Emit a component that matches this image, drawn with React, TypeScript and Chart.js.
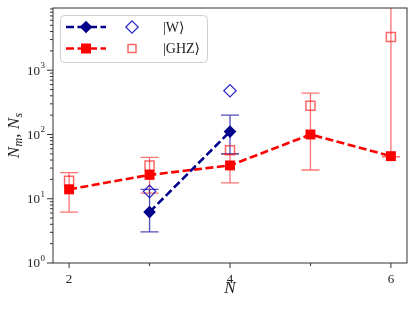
import { useEffect, useRef } from 'react';
import { Chart, registerables } from 'chart.js';
Chart.register(...registerables);

// ---- data ----
const N_W = [3, 4];
const W_MEAN = [6.2, 111];
const W_SINGLE = [13, 480];
const W_ERR_LO = [3.05, 50];
const W_ERR_HI = [14, 200];

const N_GHZ = [2, 3, 4, 5, 6];
const GHZ_MEAN = [14, 23.5, 33, 100, 46];
const GHZ_SINGLE = [19, 33, 57, 280, 3300];
const GHZ_ERR_LO = [6.2, 12.2, 17.7, 28, 45];
const GHZ_ERR_HI = [25.5, 44, 50, 440, 20000];

const X_TICKS = [2, 3, 4, 5, 6];
const X_LABELS = ['2', '', '4', '', '6'];
const Y_DECADES = [0, 1, 2, 3];
const Y_MIN = 1;
const Y_MAX = 9300;
const X_MIN = 1.8;
const X_MAX = 6.2;
const LEGEND_LABELS = ['|W\u27E9', '|GHZ\u27E9'];
const X_TITLE = 'N';

// ---- styles ----
const BLUE = '#00008b';
const RED = '#ff0000';
const BLUE_ERR = 'rgba(20,20,160,0.75)';
const RED_ERR = 'rgba(255,0,0,0.55)';
const BLUE_HOLLOW = 'rgba(0,0,190,0.85)';
const RED_HOLLOW = 'rgba(255,0,0,0.6)';
const DASH = [8, 3.5];
const LW = 2.6;
const SERIF = '"Liberation Serif", "DejaVu Serif", serif';

function diamond(ctx: CanvasRenderingContext2D, x: number, y: number, r: number) {
  ctx.beginPath();
  ctx.moveTo(x, y - r);
  ctx.lineTo(x + r, y);
  ctx.lineTo(x, y + r);
  ctx.lineTo(x - r, y);
  ctx.closePath();
}

const decor = {
  id: 'decor',
  beforeDatasetsDraw(chart: any) {
    const { ctx, chartArea: a } = chart;
    const xs = chart.scales.x;
    const ys = chart.scales.y;
    ctx.save();
    ctx.beginPath();
    ctx.rect(a.left, a.top, a.right - a.left, a.bottom - a.top);
    ctx.clip();
    const bars = (ns: number[], lo: number[], hi: number[], color: string) => {
      ctx.strokeStyle = color;
      ctx.lineWidth = 1.3;
      ns.forEach((n, i) => {
        const x = xs.getPixelForValue(n);
        const y1 = ys.getPixelForValue(lo[i]);
        const y2 = ys.getPixelForValue(hi[i]);
        ctx.beginPath();
        ctx.moveTo(x, y1);
        ctx.lineTo(x, y2);
        ctx.moveTo(x - 9, y1);
        ctx.lineTo(x + 9, y1);
        ctx.moveTo(x - 9, y2);
        ctx.lineTo(x + 9, y2);
        ctx.stroke();
      });
    };
    bars(N_GHZ, GHZ_ERR_LO, GHZ_ERR_HI, RED_ERR);
    bars(N_W, W_ERR_LO, W_ERR_HI, BLUE_ERR);
    ctx.restore();
  },
  afterDatasetsDraw(chart: any) {
    const { ctx, chartArea: a } = chart;
    const xs = chart.scales.x;
    const ys = chart.scales.y;
    ctx.save();
    // frame
    ctx.strokeStyle = '#333';
    ctx.lineWidth = 1;
    ctx.strokeRect(a.left, a.top, a.right - a.left, a.bottom - a.top);
    // x ticks
    X_TICKS.forEach((t, i) => {
      const x = xs.getPixelForValue(t);
      const len = X_LABELS[i] ? 5 : 3;
      ctx.beginPath();
      ctx.moveTo(x, a.bottom);
      ctx.lineTo(x, a.bottom + len);
      ctx.stroke();
    });
    // y ticks + labels
    Y_DECADES.forEach((d) => {
      for (let k = 1; k <= 9; k++) {
        const v = k * Math.pow(10, d);
        if (v > Y_MAX) break;
        const y = ys.getPixelForValue(v);
        const len = k === 1 ? 6 : 3;
        ctx.beginPath();
        ctx.moveTo(a.left - len, y);
        ctx.lineTo(a.left, y);
        ctx.stroke();
      }
      const y = ys.getPixelForValue(Math.pow(10, d));
      ctx.fillStyle = '#222';
      ctx.font = `9px ${SERIF}`;
      const sup = String(d);
      const supW = ctx.measureText(sup).width;
      const right = a.left - 8;
      ctx.textAlign = 'left';
      ctx.textBaseline = 'alphabetic';
      ctx.fillText(sup, right - supW, y - 2);
      ctx.font = `13px ${SERIF}`;
      ctx.textAlign = 'right';
      ctx.textBaseline = 'middle';
      ctx.fillText('10', right - supW - 0.5, y + 1);
    });
    // x title
    ctx.fillStyle = '#222';
    ctx.font = `italic 17px ${SERIF}`;
    ctx.textAlign = 'center';
    ctx.textBaseline = 'middle';
    ctx.fillText(X_TITLE, (a.left + a.right) / 2, 289);
    // y title: N_m, N_s
    ctx.save();
    ctx.translate(15, (a.top + a.bottom) / 2);
    ctx.rotate(-Math.PI / 2);
    const parts: [string, string, number][] = [
      ['N', `italic 17px ${SERIF}`, 0],
      ['m', `italic 12px ${SERIF}`, 4],
      [', ', `17px ${SERIF}`, 0],
      ['N', `italic 17px ${SERIF}`, 0],
      ['s', `italic 12px ${SERIF}`, 4],
    ];
    let total = 0;
    parts.forEach(([t, f]) => {
      ctx.font = f;
      total += ctx.measureText(t).width + (t === 'N' ? 0.5 : 0);
    });
    let cx = -total / 2;
    ctx.textAlign = 'left';
    ctx.textBaseline = 'middle';
    parts.forEach(([t, f, dy]) => {
      ctx.font = f;
      ctx.fillText(t, cx, dy);
      cx += ctx.measureText(t).width + (t === 'N' ? 0.5 : 0);
    });
    ctx.restore();
    // legend
    ctx.beginPath();
    (ctx as any).roundRect(60.5, 15.5, 147, 47, 4);
    ctx.fillStyle = 'rgba(255,255,255,0.85)';
    ctx.fill();
    ctx.strokeStyle = '#d0d0d0';
    ctx.lineWidth = 1;
    ctx.stroke();
    const rows = [
      { y: 27, color: BLUE, hollow: BLUE_HOLLOW, shape: 'd' },
      { y: 48.5, color: RED, hollow: RED_HOLLOW, shape: 's' },
    ];
    rows.forEach((r, i) => {
      ctx.strokeStyle = r.color;
      ctx.lineWidth = LW;
      ctx.setLineDash(DASH);
      ctx.beginPath();
      ctx.moveTo(66, r.y);
      ctx.lineTo(106, r.y);
      ctx.stroke();
      ctx.setLineDash([]);
      ctx.fillStyle = r.color;
      if (r.shape === 'd') {
        diamond(ctx, 86, r.y, 6.3);
        ctx.fill();
        diamond(ctx, 132, r.y, 6.2);
        ctx.strokeStyle = r.hollow;
        ctx.lineWidth = 1.2;
        ctx.stroke();
      } else {
        ctx.fillRect(81, r.y - 5, 10, 10);
        ctx.strokeStyle = r.hollow;
        ctx.lineWidth = 1.5;
        ctx.strokeRect(128, r.y - 4, 8, 8);
      }
      ctx.fillStyle = '#222';
      ctx.font = `14px ${SERIF}`;
      ctx.textAlign = 'left';
      ctx.textBaseline = 'middle';
      ctx.fillText(LEGEND_LABELS[i], 163, r.y + 1);
    });
    ctx.restore();
  },
};

export default function App() {
  const ref = useRef<HTMLCanvasElement>(null);
  useEffect(() => {
    if (!ref.current) return;
    const pts = (xs: number[], ys: number[]) => xs.map((x, i) => ({ x, y: ys[i] }));
    const chart = new Chart(ref.current, {
      type: 'line',
      data: {
        datasets: [
          {
            label: 'GHZ single',
            data: pts(N_GHZ, GHZ_SINGLE),
            showLine: false,
            pointStyle: 'rect',
            pointRadius: 6.4,
            pointBorderWidth: 1.5,
            pointBorderColor: RED_HOLLOW,
            pointBackgroundColor: 'rgba(0,0,0,0)',
            order: 3,
          },
          {
            label: 'W single',
            data: pts(N_W, W_SINGLE),
            showLine: false,
            pointStyle: 'rectRot',
            pointRadius: 6.2,
            pointBorderWidth: 1.2,
            pointBorderColor: BLUE_HOLLOW,
            pointBackgroundColor: 'rgba(0,0,0,0)',
            order: 2,
          },
          {
            label: 'GHZ',
            data: pts(N_GHZ, GHZ_MEAN),
            borderColor: RED,
            borderWidth: LW,
            borderDash: DASH,
            pointStyle: 'rect',
            pointRadius: 7,
            pointBorderWidth: 0,
            pointBackgroundColor: RED,
            fill: false,
            tension: 0,
            order: 1,
          },
          {
            label: 'W',
            data: pts(N_W, W_MEAN),
            borderColor: BLUE,
            borderWidth: LW,
            borderDash: DASH,
            pointStyle: 'rectRot',
            pointRadius: 6.3,
            pointBorderWidth: 0,
            pointBackgroundColor: BLUE,
            fill: false,
            tension: 0,
            order: 0,
          },
        ],
      },
      options: {
        responsive: false,
        animation: false,
        layout: { padding: { left: 0, top: 8, right: 8, bottom: 0 } },
        plugins: { legend: { display: false }, tooltip: { enabled: false } },
        scales: {
          x: {
            type: 'linear',
            min: X_MIN,
            max: X_MAX,
            grid: { display: false, drawTicks: false },
            border: { display: false },
            afterBuildTicks: (s: any) => {
              s.ticks = X_TICKS.map((v) => ({ value: v }));
            },
            ticks: {
              autoSkip: false,
              maxRotation: 0,
              padding: 8.5,
              color: '#222',
              font: { family: SERIF, size: 13 },
              callback: (v: any) => {
                const i = X_TICKS.indexOf(Number(v));
                return i >= 0 ? X_LABELS[i] : '';
              },
            },
            afterFit: (s: any) => {
              s.height = 49;
            },
          },
          y: {
            type: 'logarithmic',
            min: Y_MIN,
            max: Y_MAX,
            grid: { display: false, drawTicks: false },
            border: { display: false },
            ticks: { display: false },
            afterFit: (s: any) => {
              s.width = 53;
            },
          },
        },
      },
      plugins: [decor],
    });
    return () => chart.destroy();
  }, []);
  return (
    <div style={{ position: 'fixed', left: 0, top: 0, width: 415, height: 312, background: '#fff' }}>
      <canvas ref={ref} width={415} height={312} />
    </div>
  );
}
